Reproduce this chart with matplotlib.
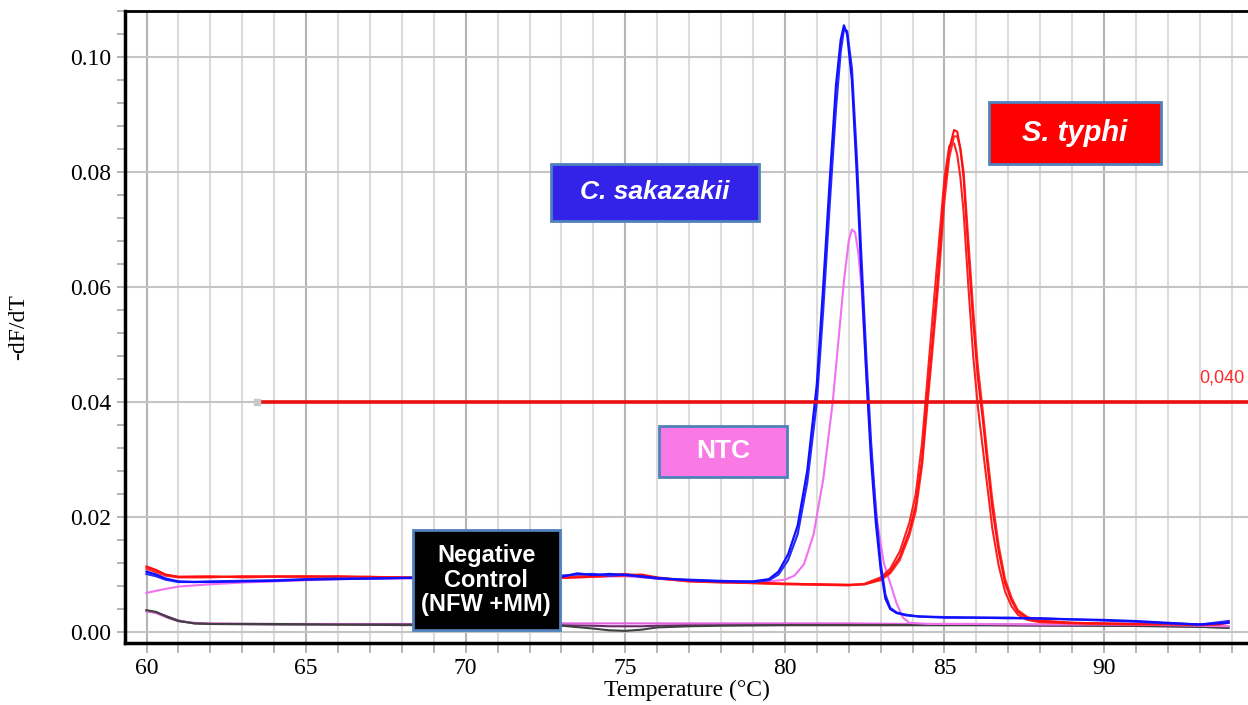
import matplotlib
matplotlib.use("Agg")
import matplotlib.pyplot as plt
from matplotlib.patches import Rectangle

# ---- data ----
blue_temp = [60.0, 60.3, 60.6, 61.0, 61.5, 62, 63, 64, 65, 66, 67, 68, 69, 70, 71, 72, 73,
             73.5, 74, 74.5, 75, 75.5, 76, 77, 78, 79, 79.5, 79.8, 80.1, 80.4, 80.7, 81.0,
             81.2, 81.4, 81.6, 81.75, 81.85, 81.95, 82.1, 82.25, 82.4, 82.55, 82.7, 82.85,
             83.0, 83.15, 83.3, 83.5, 83.8, 84.2, 85, 86, 87, 88, 89, 90, 91, 92, 93, 93.9]
blue_rep1 = [0.0105, 0.0100, 0.0093, 0.0088, 0.0087, 0.0087, 0.0088, 0.0089, 0.0091, 0.0092,
             0.0093, 0.0094, 0.0094, 0.0094, 0.0094, 0.0094, 0.0096, 0.0102, 0.0099, 0.0101,
             0.0099, 0.0097, 0.0094, 0.0090, 0.0088, 0.0088, 0.0092, 0.0105, 0.0135, 0.0185,
             0.0280, 0.0430, 0.0600, 0.0780, 0.0950, 0.1030, 0.1055, 0.1040, 0.0960, 0.0800,
             0.0620, 0.0450, 0.0300, 0.0190, 0.0110, 0.0058, 0.0040, 0.0033, 0.0029, 0.0027,
             0.0025, 0.0025, 0.0024, 0.0024, 0.0022, 0.0021, 0.0019, 0.0016, 0.0013, 0.0016]
blue_rep2 = [0.0101, 0.0097, 0.0091, 0.0087, 0.0087, 0.0088, 0.0089, 0.0090, 0.0092, 0.0093,
             0.0093, 0.0094, 0.0095, 0.0094, 0.0093, 0.0095, 0.0098, 0.0100, 0.0101, 0.0098,
             0.0100, 0.0096, 0.0093, 0.0091, 0.0089, 0.0087, 0.0090, 0.0100, 0.0125, 0.0170,
             0.0260, 0.0400, 0.0560, 0.0740, 0.0910, 0.1010, 0.1048, 0.1045, 0.0980, 0.0830,
             0.0650, 0.0480, 0.0330, 0.0210, 0.0120, 0.0065, 0.0042, 0.0034, 0.0030, 0.0027,
             0.0026, 0.0025, 0.0025, 0.0023, 0.0022, 0.0020, 0.0018, 0.0015, 0.0013, 0.0019]

red_temp = [60.0, 60.3, 60.6, 61.0, 62, 63, 64, 65, 66, 67, 68, 69, 70, 71, 72, 73, 74, 75,
            75.5, 76, 77, 78, 79, 80, 81, 82, 82.5, 83, 83.3, 83.6, 83.9, 84.1, 84.3, 84.45,
            84.6, 84.8, 85.0, 85.15, 85.3, 85.4, 85.5, 85.6, 85.75, 85.9, 86.05, 86.2, 86.35,
            86.5, 86.7, 86.9, 87.1, 87.3, 87.6, 88, 89, 90, 91, 92, 93, 93.6, 93.9]
red_rep1 = [0.0114, 0.0108, 0.0100, 0.0096, 0.0096, 0.0096, 0.0097, 0.0096, 0.0097, 0.0096,
            0.0095, 0.0094, 0.0094, 0.0094, 0.0093, 0.0094, 0.0096, 0.0099, 0.0100, 0.0095,
            0.0089, 0.0087, 0.0086, 0.0084, 0.0083, 0.0082, 0.0083, 0.0092, 0.0105, 0.0130,
            0.0175, 0.0220, 0.0300, 0.0400, 0.0490, 0.0620, 0.0770, 0.0840, 0.0873, 0.0870,
            0.0840, 0.0790, 0.0660, 0.0540, 0.0440, 0.0370, 0.0290, 0.0215, 0.0140, 0.0085,
            0.0055, 0.0035, 0.0024, 0.0019, 0.0016, 0.0015, 0.0014, 0.0014, 0.0013, 0.0014,
            0.0019]
red_rep2 = [0.0110, 0.0104, 0.0098, 0.0095, 0.0095, 0.0097, 0.0096, 0.0097, 0.0096, 0.0095,
            0.0095, 0.0095, 0.0093, 0.0093, 0.0094, 0.0095, 0.0098, 0.0101, 0.0098, 0.0093,
            0.0088, 0.0086, 0.0085, 0.0083, 0.0082, 0.0081, 0.0084, 0.0095, 0.0110, 0.0140,
            0.0190, 0.0240, 0.0330, 0.0430, 0.0530, 0.0660, 0.0790, 0.0845, 0.0850, 0.0830,
            0.0790, 0.0730, 0.0600, 0.0480, 0.0390, 0.0320, 0.0250, 0.0180, 0.0115, 0.0070,
            0.0045, 0.0030, 0.0021, 0.0017, 0.0015, 0.0014, 0.0013, 0.0013, 0.0012, 0.0013,
            0.0016]
red_rep3 = [0.0112, 0.0106, 0.0099, 0.0096, 0.0097, 0.0095, 0.0096, 0.0097, 0.0095, 0.0096,
            0.0094, 0.0094, 0.0095, 0.0093, 0.0093, 0.0095, 0.0097, 0.0098, 0.0099, 0.0094,
            0.0088, 0.0087, 0.0085, 0.0084, 0.0083, 0.0082, 0.0083, 0.0090, 0.0102, 0.0125,
            0.0168, 0.0210, 0.0290, 0.0385, 0.0475, 0.0600, 0.0750, 0.0825, 0.0862, 0.0862,
            0.0840, 0.0800, 0.0680, 0.0560, 0.0460, 0.0385, 0.0305, 0.0230, 0.0150, 0.0092,
            0.0060, 0.0038, 0.0026, 0.0020, 0.0016, 0.0015, 0.0014, 0.0014, 0.0013, 0.0014,
            0.0018]

ntc_temp = [60.0, 60.5, 61, 62, 63, 64, 65, 66, 67, 68, 69, 70, 71, 72, 73, 74, 75, 76, 77,
            78, 79, 79.5, 80.0, 80.3, 80.6, 80.9, 81.2, 81.5, 81.7, 81.85, 82.0, 82.1, 82.2,
            82.3, 82.4, 82.5, 82.6, 82.75, 82.9, 83.1, 83.3, 83.5, 83.7, 83.9, 84.5, 86, 88,
            90, 92, 93.9]
ntc_vals = [0.0068, 0.0074, 0.0079, 0.0083, 0.0086, 0.0088, 0.0090, 0.0092, 0.0093, 0.0093,
            0.0094, 0.0093, 0.0093, 0.0093, 0.0094, 0.0096, 0.0097, 0.0093, 0.0089, 0.0087,
            0.0087, 0.0088, 0.0091, 0.0098, 0.0118, 0.0170, 0.0265, 0.0400, 0.0520, 0.0610,
            0.0680, 0.0700, 0.0695, 0.0660, 0.0600, 0.0500, 0.0400, 0.0280, 0.0190, 0.0120,
            0.0085, 0.0050, 0.0025, 0.0016, 0.0014, 0.0014, 0.0013, 0.0013, 0.0012, 0.0010]

neg_temp = [60, 60.3, 60.7, 61, 61.5, 62, 64, 66, 68, 70, 72, 73, 74, 74.5, 75, 75.5, 76, 77,
            78, 80, 82, 84, 86, 88, 90, 92, 93, 93.9]
neg_dark = [0.0038, 0.0035, 0.0025, 0.0019, 0.0015, 0.0014, 0.0014, 0.0013, 0.0013, 0.0012,
            0.0012, 0.0011, 0.0006, 0.0003, 0.0002, 0.0004, 0.0008, 0.0010, 0.0011, 0.0012,
            0.0012, 0.0012, 0.0012, 0.0012, 0.0011, 0.0010, 0.0009, 0.0007]
neg_magenta = [0.0036, 0.0033, 0.0024, 0.0019, 0.0016, 0.0015, 0.0014, 0.0014, 0.0014, 0.0014,
               0.0014, 0.0015, 0.0015, 0.0015, 0.0015, 0.0015, 0.0015, 0.0015, 0.0015, 0.0015,
               0.0015, 0.0014, 0.0014, 0.0013, 0.0013, 0.0012, 0.0011, 0.0010]
neg_purple = [0.0037, 0.0034, 0.0026, 0.0020, 0.0015, 0.0014, 0.0013, 0.0013, 0.0012, 0.0012,
              0.0012, 0.0012, 0.0011, 0.0010, 0.0010, 0.0010, 0.0011, 0.0012, 0.0012, 0.0012,
              0.0012, 0.0012, 0.0012, 0.0011, 0.0011, 0.0010, 0.0009, 0.0008]

threshold = 0.04
threshold_start = 63.45
x_ticks = [60, 65, 70, 75, 80, 85, 90]
y_ticks = [0.00, 0.02, 0.04, 0.06, 0.08, 0.10]

serif = "Liberation Serif"
sans = "Liberation Sans"

fig = plt.figure(figsize=(12.48, 7.05), dpi=100)
ax = fig.add_axes([125 / 1248, 62 / 705, 1123 / 1248, 632 / 705])
ax.set_xlim(59.326, 94.51)
ax.set_ylim(-0.00191, 0.1080)

# grid: every degree, darker every 5
ax.set_xticks(x_ticks)
ax.set_xticks(range(60, 95), minor=True)
ax.set_yticks(y_ticks)
ax.set_yticks([i * 0.004 for i in range(28)], minor=True)
ax.grid(which="minor", axis="x", color="#dcdcdc", lw=1.5, zorder=0)
ax.grid(which="major", axis="x", color="#b4b4b4", lw=1.5, zorder=0)
ax.grid(which="major", axis="y", color="#c4c4c4", lw=1.5, zorder=0)
ax.set_axisbelow(True)

ax.set_yticklabels(["%.2f" % v for v in y_ticks])
ax.tick_params(axis="both", which="both", direction="out", color="#b0b0b0", width=1.3)
ax.tick_params(axis="y", which="both", length=6, pad=4, labelsize=17)
ax.tick_params(axis="x", which="both", length=7, pad=4, labelsize=17)
for lab in ax.get_xticklabels() + ax.get_yticklabels():
    lab.set_fontfamily(serif)

ax.spines["right"].set_visible(False)
ax.spines["top"].set_linewidth(2)
ax.spines["left"].set_linewidth(2.5)
ax.spines["bottom"].set_linewidth(2.5)

ax.set_xlabel("Temperature (\u00b0C)", fontsize=17, family=serif)
ax.set_ylabel("-dF/dT", fontsize=17, family=serif)
ax.xaxis.set_label_coords(0.5, -0.058)
ax.yaxis.set_label_coords(-0.085, 0.5)

# curves
ax.plot(neg_temp, neg_purple, color="#6a2a6a", lw=1.5, zorder=3)
ax.plot(neg_temp, neg_magenta, color="#e060e0", lw=1.5, zorder=3)
ax.plot(neg_temp, neg_dark, color="#404040", lw=1.5, zorder=3)
ax.plot(ntc_temp, ntc_vals, color="#f070f0", lw=1.5, zorder=4)
ax.plot(red_temp, red_rep2, color="#ff2020", lw=1.5, zorder=4)
ax.plot(red_temp, red_rep3, color="#ff3030", lw=1.5, zorder=4)
ax.plot(red_temp, red_rep1, color="#ff1010", lw=1.5, zorder=4)
ax.plot(blue_temp, blue_rep2, color="#2a2aff", lw=1.6, zorder=5)
ax.plot(blue_temp, blue_rep1, color="#1010ff", lw=1.6, zorder=5)

# threshold
ax.hlines(threshold, threshold_start, ax.get_xlim()[1], color="#e81010", lw=2.6, zorder=6)
ax.plot([threshold_start], [threshold], marker="s", ms=4, color="#c8c8c8", zorder=7)
ax.text(94.4, 0.0442, "0,040", ha="right", va="center", color="#ff2a2a",
        fontsize=13, family=sans, zorder=7)

# label boxes
boxes = [
    ((72.674, 0.07148), 6.516, 0.00992, "#3322e8", "C. sakazakii", 19, "italic"),
    ((86.40, 0.0814), 5.38, 0.0108, "#ff0000", "S. typhi", 21, "italic"),
    ((76.06, 0.02696), 4.01, 0.00887, "#f97ae4", "NTC", 19, "normal"),
    ((68.34, 0.00035), 4.61, 0.01739, "#000000", "Negative\nControl\n(NFW +MM)", 17, "normal"),
]
for (x0, y0), w, h, fc, txt, fs, style in boxes:
    ax.add_patch(Rectangle((x0, y0), w, h, facecolor=fc, edgecolor="#4f81bd",
                           lw=2, zorder=8))
    ax.text(x0 + w / 2, y0 + h / 2, txt, ha="center", va="center", color="white",
            fontsize=fs, fontweight="bold", fontstyle=style, family=sans,
            linespacing=1.1, zorder=9)

fig.savefig("out.png", dpi=100)
